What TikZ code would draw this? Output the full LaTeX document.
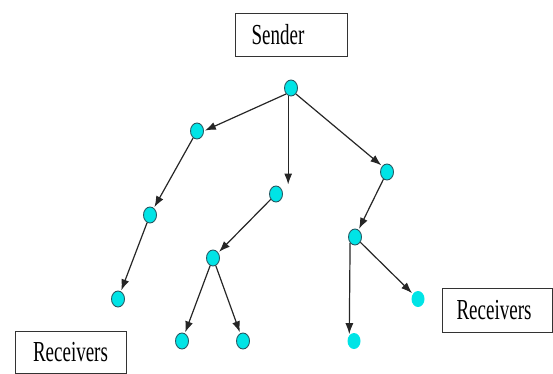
\documentclass[tikz,border=0pt]{standalone}
\usepackage{fontspec}
\setmainfont{Liberation Serif}
\usetikzlibrary{shapes.geometric,arrows.meta}
\definecolor{nodecyan}{RGB}{0,228,230}
\definecolor{rimcol}{RGB}{40,90,100}
\tikzset{
  dot/.style={ellipse,fill=nodecyan,draw=rimcol,line width=0.9pt,minimum width=13pt,minimum height=16pt,inner sep=0pt},
  leaf/.style={ellipse,fill=nodecyan,minimum width=13pt,minimum height=16pt,inner sep=0pt},
  lbl/.style={draw=black!80,line width=0.8pt,inner sep=0pt,font=\fontsize{20}{20}\selectfont},
  arr/.style={draw=black!85,line width=1.2pt,-{Latex[length=11pt,width=8pt]},shorten >=1pt,shorten <=0pt}
}
\begin{document}
\begin{tikzpicture}[x=1pt,y=-1pt]
\useasboundingbox (0,0) rectangle (553,374);
\node[lbl,minimum width=112pt,minimum height=43pt] (snd) at (291,35) {\scalebox{0.95}[1.45]{Sender}\kern26pt\relax};
\node[lbl,minimum width=111pt,minimum height=42pt] (rl) at (70.5,352) {\scalebox{0.95}[1.45]{Receivers}};
\node[lbl,minimum width=110pt,minimum height=44pt] (rr) at (497,310) {\scalebox{0.95}[1.45]{Receivers}\kern6pt\relax};
\node[dot] (r) at (291,88) {};
\node[dot] (a) at (197,131) {};
\node[dot] (b) at (276,194) {};
\node[dot] (c) at (387,172) {};
\node[dot] (a1) at (150,215) {};
\node[dot] (a2) at (118,299) {};
\node[dot] (b1) at (213,258) {};
\node[dot] (b1a) at (182,341) {};
\node[dot] (b1b) at (243,341) {};
\node[dot] (c1) at (355,237) {};
\node[leaf] (c1a) at (354,341) {};
\node[leaf] (c1b) at (418,299) {};
\draw[arr] (r.south west) -- (a.east);
\draw[arr] (r.250) -- (r.250 |- b.north);
\draw[arr] (r.south east) -- (c.north west);
\draw[arr] (a) -- (a1);
\draw[arr] (a1) -- (a2);
\draw[arr] (b) -- (b1);
\draw[arr] (b1) -- (b1a);
\draw[arr] (b1) -- (b1b);
\draw[arr] (c) -- (c1);
\draw[arr] (c1.south west) -- (c1a.north west);
\draw[arr] (c1) -- (c1b);
\end{tikzpicture}
\end{document}
